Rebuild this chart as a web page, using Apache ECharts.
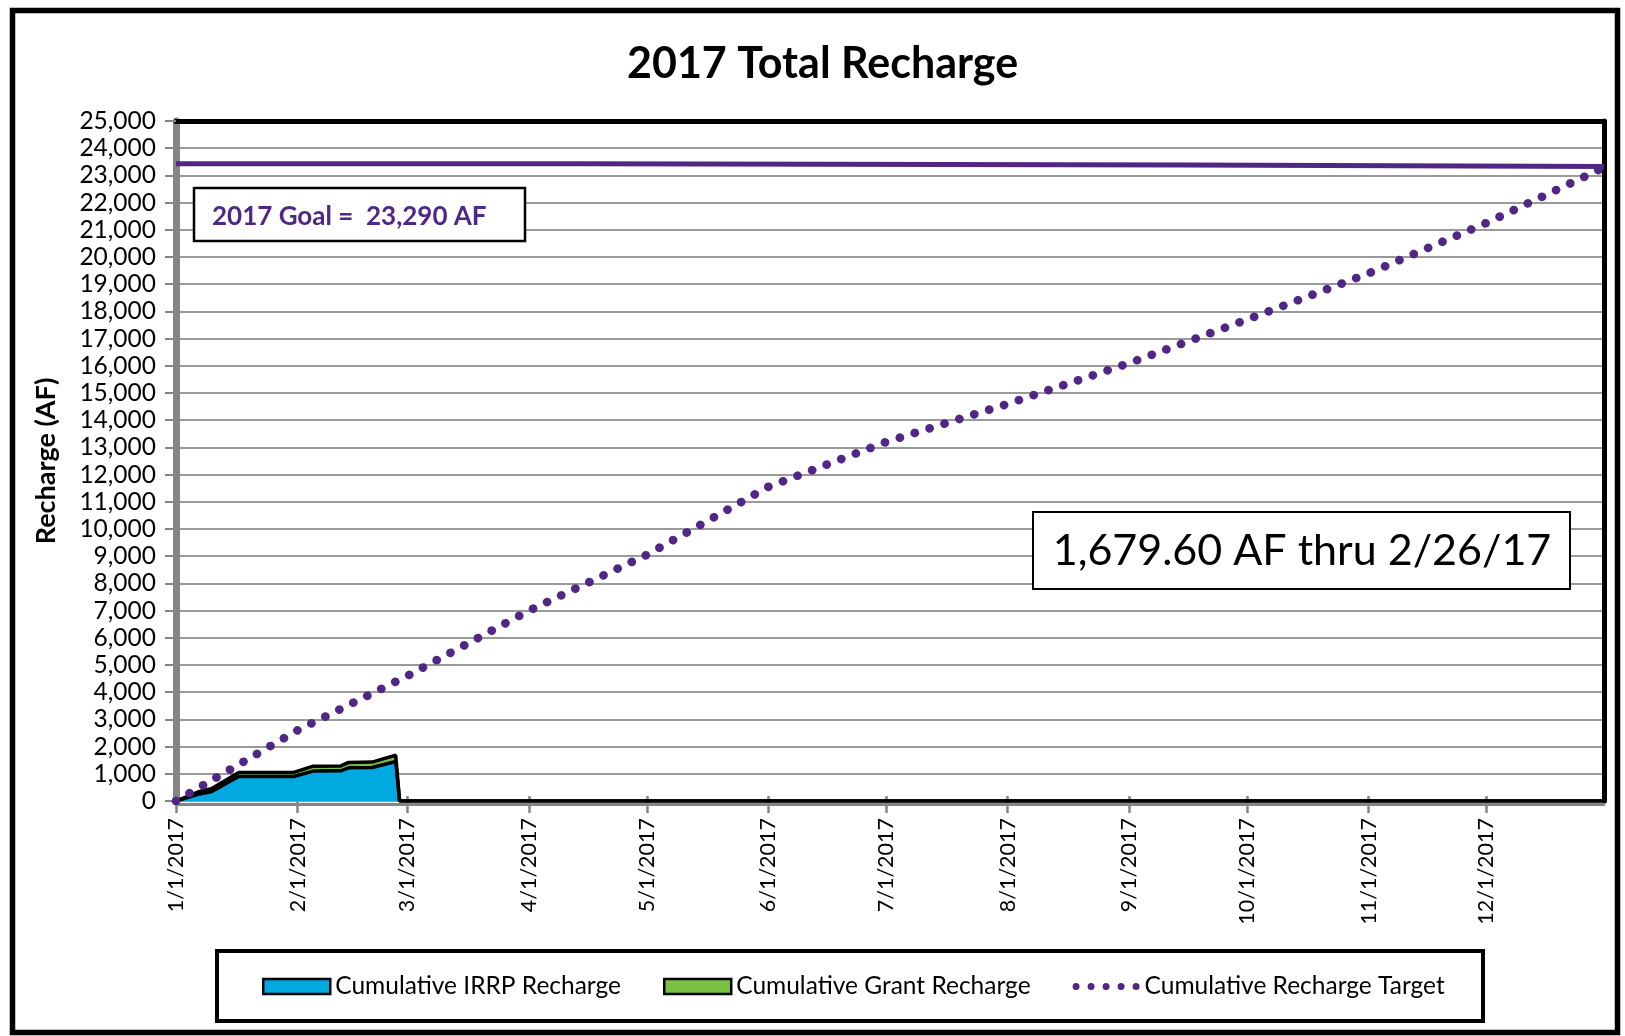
<!DOCTYPE html>
<html>
<head>
<meta charset="utf-8">
<title>2017 Total Recharge</title>
<script src="https://cdn.jsdelivr.net/npm/echarts@6/dist/echarts.min.js"></script>
<style>
  html, body { margin: 0; padding: 0; background: #fff; }
  #chart { width: 1625px; height: 1036px; }
</style>
</head>
<body>
<div id="chart"></div>
<script>
// cumulative recharge (AF)
var rechargeDates = ['2017-01-01', '2017-01-07', '2017-01-10', '2017-01-17', '2017-01-31', '2017-02-05',
  '2017-02-12', '2017-02-14', '2017-02-20', '2017-02-23', '2017-02-26', '2017-02-27', '2017-12-31'];
var irrpRecharge = [0, 260, 340, 900, 900, 1100, 1110, 1220, 1230, 1340, 1450, 0, 0];
var grantRecharge = [0, 90, 110, 150, 150, 180, 180, 200, 200, 220, 230, 0, 0];

// monthly target
var targetDates = ['2017-01-01', '2017-02-01', '2017-03-01', '2017-04-01', '2017-05-01', '2017-06-01',
  '2017-07-01', '2017-08-01', '2017-09-01', '2017-10-01', '2017-11-01', '2017-12-01', '2017-12-31'];
var rechargeTarget = [0, 2600, 4600, 7000, 9050, 11550, 13200, 14600, 16100, 17700, 19400, 21250, 23290];

// goal line (drawn slightly stepped in the original)
var goalDates = ['2017-01-01', '2017-04-14', '2017-04-14', '2017-09-16', '2017-09-16', '2017-12-31'];
var goalValues = [23430, 23430, 23380, 23380, 23330, 23330];

var monthTicks = ['2017-01-01', '2017-02-01', '2017-03-01', '2017-04-01', '2017-05-01', '2017-06-01',
  '2017-07-01', '2017-08-01', '2017-09-01', '2017-10-01', '2017-11-01', '2017-12-01'];
var xMin = '2017-01-01', xMax = '2017-12-31';
var yMax = 25000, yStep = 1000;

var legendNames = ['Cumulative IRRP Recharge', 'Cumulative Grant Recharge', 'Cumulative Recharge Target'];

var purple = '#512785';
var FONT = 'Lato';

function ms(d) { return Date.parse(d + 'T00:00:00Z'); }
function pairs(dates, vals) { return dates.map(function (d, i) { return [ms(d), vals[i]]; }); }
function fmtDate(v) {
  var d = new Date(v);
  return (d.getUTCMonth() + 1) + '/' + d.getUTCDate() + '/' + d.getUTCFullYear();
}
var tickMs = monthTicks.map(ms);
// grant band sits on top of IRRP
var totalRecharge = irrpRecharge.map(function (v, i) { return v + grantRecharge[i]; });

var dotsIcon = 'path://' + [0, 15, 30, 45, 60].map(function (x) {
  return 'M' + x + ',3.5a3.5,3.5 0 1,0 7,0a3.5,3.5 0 1,0 -7,0Z';
}).join(' ');

var myChart = echarts.init(document.getElementById('chart'));

var option = {
  animation: false,
  backgroundColor: '#fff',
  title: {
    text: '2017 Total Recharge',
    left: 627,
    top: 43,
    padding: 0,
    textStyle: { fontFamily: FONT, fontSize: 43, fontWeight: 'bold', color: '#000' }
  },
  grid: { left: 176, top: 121, width: 1428, height: 680, containLabel: false },
  legend: {
    left: 257,
    top: 969,
    itemWidth: 67,
    itemHeight: 15,
    itemGap: 42,
    textStyle: { fontFamily: FONT, fontSize: 24.5, color: '#000' },
    data: [
      { name: legendNames[0], icon: 'rect', itemStyle: { color: '#00A9E0', borderColor: '#000', borderWidth: 2.5 } },
      { name: legendNames[1], icon: 'rect', itemStyle: { color: '#7AC143', borderColor: '#000', borderWidth: 2.5 } },
      { name: legendNames[2], icon: dotsIcon, itemStyle: { color: purple } }
    ]
  },
  xAxis: [
    {
      type: 'value',
      min: ms(xMin),
      max: ms(xMax),
      position: 'bottom',
      offset: 3,
      splitLine: { show: false },
      axisLine: { show: true, onZero: false, lineStyle: { color: '#858585', width: 3 } },
      axisTick: { show: true, length: 9, customValues: tickMs, lineStyle: { color: '#858585', width: 2.5 } },
      axisLabel: {
        customValues: tickMs,
        formatter: fmtDate,
        rotate: 90,
        margin: 14,
        fontFamily: FONT,
        fontSize: 21.5,
        color: '#000'
      }
    },
    {
      type: 'value',
      min: ms(xMin),
      max: ms(xMax),
      position: 'top',
      splitLine: { show: false },
      axisLine: { show: true, onZero: false, lineStyle: { color: '#000', width: 5 } },
      axisTick: { show: false },
      axisLabel: { show: false }
    },
    {
      type: 'value',
      min: ms(xMin),
      max: ms(xMax),
      position: 'bottom',
      offset: 3,
      splitLine: { show: false },
      axisLine: { show: false, onZero: false },
      axisTick: { show: true, inside: true, length: 8, customValues: tickMs, lineStyle: { color: '#858585', width: 2.5 } },
      axisLabel: { show: false }
    }
  ],
  yAxis: [
    {
      type: 'value',
      min: 0,
      max: yMax,
      interval: yStep,
      name: 'Recharge (AF)',
      nameLocation: 'middle',
      nameRotate: 90,
      nameGap: 116,
      nameTextStyle: { fontFamily: FONT, fontSize: 27, fontWeight: 'bold', color: '#000' },
      axisLine: { show: true, onZero: false, lineStyle: { color: '#858585', width: 7 } },
      axisTick: { show: true, length: 11, lineStyle: { color: '#858585', width: 2 } },
      splitLine: { show: true, lineStyle: { color: '#9a9a9a', width: 2 } },
      axisLabel: {
        margin: 20,
        fontFamily: FONT,
        fontSize: 24.5,
        color: '#000',
        formatter: function (v) { return v.toLocaleString('en-US'); }
      }
    },
    {
      type: 'value',
      min: 0,
      max: yMax,
      position: 'right',
      axisLine: { show: true, onZero: false, lineStyle: { color: '#000', width: 5 } },
      axisTick: { show: false },
      axisLabel: { show: false },
      splitLine: { show: false }
    }
  ],
  series: [
    {
      name: legendNames[1],
      type: 'line',
      symbol: 'none',
      data: pairs(rechargeDates, totalRecharge),
      itemStyle: { color: '#7AC143' },
      lineStyle: { color: '#000', width: 3.5 },
      areaStyle: { color: '#7AC143', opacity: 1 },
      z: 3
    },
    {
      name: legendNames[0],
      type: 'line',
      symbol: 'none',
      data: pairs(rechargeDates, irrpRecharge),
      itemStyle: { color: '#00A9E0' },
      lineStyle: { color: '#000', width: 3.5 },
      areaStyle: { color: '#00A9E0', opacity: 1 },
      z: 3
    },
    {
      name: legendNames[2],
      type: 'line',
      symbol: 'none',
      data: pairs(targetDates, rechargeTarget),
      itemStyle: { color: purple },
      lineStyle: { color: purple, width: 8.7, type: [0.1, 15.5], cap: 'round' },
      z: 4
    },
    {
      name: 'Goal',
      type: 'line',
      symbol: 'none',
      data: pairs(goalDates, goalValues),
      itemStyle: { color: purple },
      lineStyle: { color: purple, width: 5 },
      z: 4
    }
  ],
  graphic: [
    // outer frame
    { type: 'rect', silent: true, z: 100, shape: { x: 12.5, y: 10.5, width: 1605, height: 1022 },
      style: { fill: 'none', stroke: '#000', lineWidth: 5.5 } },
    // goal box
    { type: 'rect', silent: true, z: 100, shape: { x: 194, y: 188, width: 331, height: 53 },
      style: { fill: '#fff', stroke: '#000', lineWidth: 2.5 } },
    { type: 'text', silent: true, z: 101,
      style: { text: '2017 Goal =  23,290 AF', x: 212, y: 217, fill: purple,
        font: 'bold 26px Lato', textAlign: 'left', textVerticalAlign: 'middle' } },
    // status box
    { type: 'rect', silent: true, z: 100, shape: { x: 1033, y: 512, width: 537, height: 77 },
      style: { fill: '#fff', stroke: '#000', lineWidth: 2 } },
    { type: 'text', silent: true, z: 101,
      style: { text: '1,679.60 AF thru 2/26/17', x: 1302, y: 551, fill: '#000',
        font: '43px Lato', textAlign: 'center', textVerticalAlign: 'middle' } },
    // legend box
    { type: 'rect', silent: true, z: 100, shape: { x: 217, y: 951, width: 1266, height: 70 },
      style: { fill: 'none', stroke: '#000', lineWidth: 4 } }
  ]
};

myChart.setOption(option);
</script>
</body>
</html>
